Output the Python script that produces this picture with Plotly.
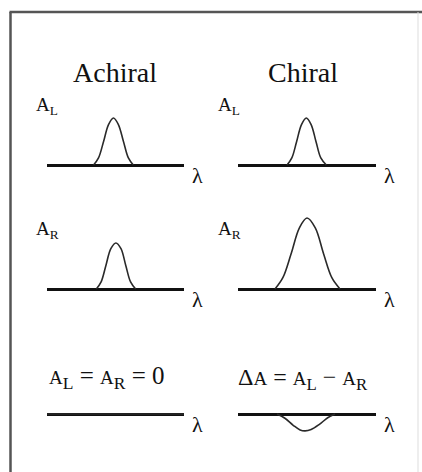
import plotly.graph_objects as go

W, H = 422, 472

# ---------------- data (wavelength λ in arbitrary units 0..10, absorbance) -------------
lam_AL_achiral = [3.4, 3.76, 4.13, 4.49, 4.85, 5.21, 5.58, 5.94, 6.3]
abs_AL_achiral = [0.0, 0.15, 0.5, 0.86, 1.0, 0.86, 0.5, 0.15, 0.0]

lam_AL_chiral = [3.55, 3.9, 4.25, 4.6, 4.95, 5.3, 5.65, 6.0, 6.4]
abs_AL_chiral = [0.0, 0.15, 0.5, 0.86, 1.0, 0.86, 0.5, 0.15, 0.0]

lam_AR_achiral = [3.6, 3.95, 4.3, 4.66, 5.03, 5.4, 5.75, 6.1, 6.47]
abs_AR_achiral = [0.0, 0.15, 0.5, 0.86, 0.98, 0.86, 0.5, 0.15, 0.0]

lam_AR_chiral = [2.68, 3.25, 3.85, 4.45, 5.0, 5.6, 6.2, 6.8, 7.39]
abs_AR_chiral = [0.0, 0.24, 0.75, 1.3, 1.51, 1.3, 0.75, 0.24, 0.0]

lam_zero_achiral = [0.0, 10.0]
abs_zero_achiral = [0.0, 0.0]

lam_dA_chiral = [2.83, 3.4, 4.0, 4.5, 4.86, 5.3, 5.9, 6.5, 7.03]
abs_dA_chiral = [0.0, -0.09, -0.24, -0.34, -0.36, -0.33, -0.22, -0.08, 0.0]

column_titles = ["Achiral", "Chiral"]
SA = '<span style="font-size:19px">A</span>'
row_labels = [["A<sub>L</sub>", "A<sub>L</sub>"],
              ["A<sub>R</sub>", "A<sub>R</sub>"],
              [SA + "<sub>L</sub> = " + SA + "<sub>R</sub> = 0",
               "Δ" + SA + " = " + SA + "<sub>L</sub> − " + SA + "<sub>R</sub>"]]
axis_label = "λ"

# ---------------- layout geometry (pixels) ----------------
col_x = [(47, 184), (238, 376)]          # horizontal extent of each baseline
row_base = [165, 289, 414]               # baseline y of each row
PX_PER_UNIT = 47.0
Y_LO, Y_HI = -0.6, 1.65

def fx(px):
    return px / W

def fy(py):
    return 1 - py / H

panels = [
    [(lam_AL_achiral, abs_AL_achiral), (lam_AL_chiral, abs_AL_chiral)],
    [(lam_AR_achiral, abs_AR_achiral), (lam_AR_chiral, abs_AR_chiral)],
    [(lam_zero_achiral, abs_zero_achiral), (lam_dA_chiral, abs_dA_chiral)],
]

fig = go.Figure()
layout_axes = {}
serif = "Liberation Serif, Times New Roman, serif"
annotations = []

k = 0
for r in range(3):
    for c in range(2):
        k += 1
        xa = "x" if k == 1 else f"x{k}"
        ya = "y" if k == 1 else f"y{k}"
        xkey = "xaxis" if k == 1 else f"xaxis{k}"
        ykey = "yaxis" if k == 1 else f"yaxis{k}"
        x0, x1 = col_x[c]
        base = row_base[r]
        top_px = base - Y_HI * PX_PER_UNIT
        bot_px = base - Y_LO * PX_PER_UNIT
        layout_axes[xkey] = dict(domain=[fx(x0), fx(x1)], range=[0, 10], anchor=ya,
                                 showgrid=False, zeroline=False, showline=False,
                                 showticklabels=False, ticks="", fixedrange=True)
        layout_axes[ykey] = dict(domain=[fy(bot_px), fy(top_px)], range=[Y_LO, Y_HI], anchor=xa,
                                 showgrid=False, zeroline=True, zerolinecolor="#111",
                                 zerolinewidth=3, showline=False, showticklabels=False,
                                 ticks="", fixedrange=True)
        lam, a = panels[r][c]
        fig.add_trace(go.Scatter(x=lam, y=a, xaxis=xa, yaxis=ya, mode="lines",
                                 line=dict(color="#2a2a2a", width=1.6, shape="spline", smoothing=1.0),
                                 hoverinfo="skip", showlegend=False))
        # λ label at the end of each baseline
        annotations.append(dict(x=10, y=0, xref=xa, yref=ya, text=axis_label, showarrow=False,
                                xanchor="left", yanchor="middle", xshift=6, yshift=-10,
                                font=dict(family=serif, size=22, color="#111")))

# column titles
for c, t in enumerate(column_titles):
    cx = [115, 303][c]
    annotations.append(dict(x=fx(cx), y=fy(72), xref="paper", yref="paper", text=t,
                            showarrow=False, xanchor="center", yanchor="middle",
                            font=dict(family=serif, size=28, color="#111")))

# row labels
label_pos = [[(34, 106), (216, 106)], [(34, 230), (216, 230)], [(47, 377), (236, 379)]]
label_size = [[19, 19], [19, 19], [25, 24]]
for r in range(3):
    for c in range(2):
        px, py = label_pos[r][c]
        annotations.append(dict(x=fx(px), y=fy(py), xref="paper", yref="paper",
                                text=row_labels[r][c], showarrow=False,
                                xanchor="left", yanchor="middle",
                                font=dict(family=serif, size=label_size[r][c], color="#111")))

shapes = [
    dict(type="line", xref="paper", yref="paper", x0=fx(10.5), y0=fy(H + 5), x1=fx(10.5), y1=fy(12),
         line=dict(color="#555", width=2.5)),
    dict(type="line", xref="paper", yref="paper", x0=fx(9.5), y0=fy(12), x1=fx(W + 5), y1=fy(12),
         line=dict(color="#555", width=2.5)),
    dict(type="line", xref="paper", yref="paper", x0=fx(418), y0=fy(12), x1=fx(418), y1=fy(H + 5),
         line=dict(color="#ddd", width=1)),
]

fig.update_layout(width=W, height=H, margin=dict(l=0, r=0, t=0, b=0),
                  paper_bgcolor="white", plot_bgcolor="rgba(0,0,0,0)",
                  annotations=annotations, shapes=shapes, showlegend=False, **layout_axes)

fig.write_html("out.html", config={"displayModeBar": False},
               post_script="document.body.style.margin='0px';document.body.style.overflow='hidden';")
